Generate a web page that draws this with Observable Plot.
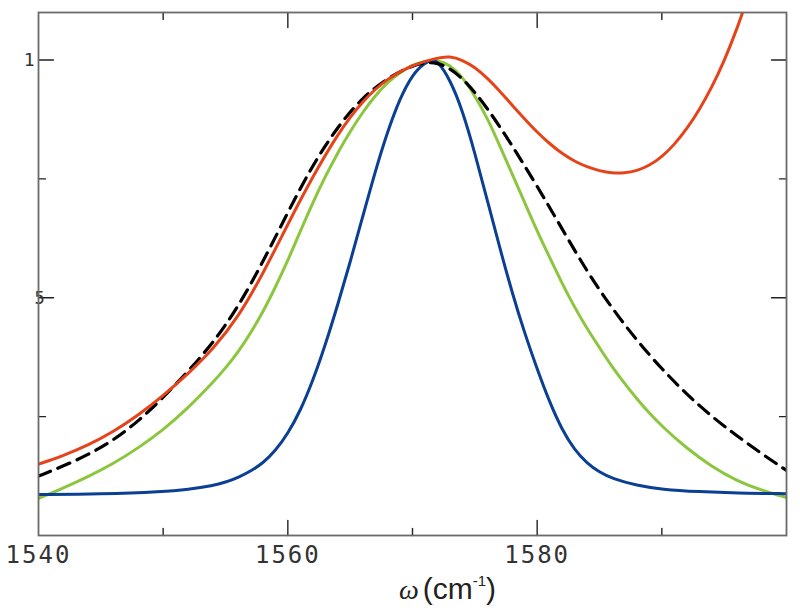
<!DOCTYPE html>
<html><head><meta charset="utf-8">
<script src="https://cdn.jsdelivr.net/npm/d3@7"></script>
<script src="https://cdn.jsdelivr.net/npm/@observablehq/plot@0.6"></script>
<style>body{margin:0;background:#fff} #chart svg{display:block}</style>
</head><body><div id="chart"></div>
<script>
// ---- data ----
const blueOmega  = [1540,1545,1550,1552,1554,1555,1556,1557,1558,1559,1560,1561,1562,1563,1564,1565,1566,1567,1568,1569,1570,1571,1571.6,1572,1573,1574,1575,1576,1577,1578,1579,1580,1581,1582,1583,1584,1585,1586,1588,1590,1593,1596,1600];
const blueValues = [0.086,0.087,0.092,0.097,0.105,0.112,0.122,0.135,0.152,0.178,0.214,0.262,0.325,0.40,0.485,0.575,0.67,0.765,0.85,0.92,0.97,0.995,1.0,0.998,0.96,0.895,0.805,0.705,0.605,0.51,0.425,0.35,0.28,0.222,0.18,0.152,0.133,0.12,0.105,0.097,0.092,0.089,0.088];

const greenOmega  = [1540,1542,1544,1546,1548,1550,1552,1554,1555,1556,1557,1558,1559,1560,1561,1562,1563,1564,1565,1566,1567,1568,1569,1570,1571,1572,1573,1574,1575,1576,1577,1578,1579,1580,1581,1582,1583,1584,1585,1586,1587,1588,1589,1590,1592,1594,1596,1598,1600];
const greenValues = [0.078,0.1,0.124,0.151,0.184,0.222,0.268,0.322,0.352,0.385,0.425,0.47,0.522,0.578,0.64,0.70,0.755,0.805,0.85,0.89,0.925,0.953,0.974,0.99,0.998,1.0,0.99,0.965,0.925,0.878,0.82,0.76,0.70,0.64,0.585,0.53,0.48,0.435,0.395,0.355,0.32,0.287,0.257,0.23,0.183,0.145,0.115,0.095,0.08];

const dashOmega  = [1540,1542,1544,1546,1548,1550,1552,1554,1556,1558,1560,1562,1564,1566,1568,1570,1572,1574,1576,1578,1580,1582,1584,1586,1588,1590,1592,1594,1596,1598,1600];
const dashValues = [0.125,0.146,0.17,0.2,0.24,0.29,0.345,0.405,0.48,0.575,0.68,0.78,0.86,0.922,0.962,0.99,1.0,0.965,0.9,0.82,0.735,0.645,0.555,0.478,0.41,0.35,0.297,0.25,0.21,0.172,0.137];

const redOmega  = [1540,1542,1544,1546,1548,1550,1552,1554,1556,1558,1560,1562,1564,1566,1568,1570,1572,1573,1574,1575,1576,1577,1578,1579,1580,1581,1582,1583,1584,1585,1586,1587,1588,1589,1590,1591,1592,1593,1594,1595,1596,1597];
const redValues = [0.15,0.168,0.19,0.218,0.253,0.294,0.34,0.392,0.458,0.55,0.655,0.755,0.845,0.915,0.962,0.99,1.005,1.008,1.0,0.985,0.962,0.935,0.905,0.876,0.848,0.824,0.803,0.787,0.775,0.767,0.762,0.762,0.767,0.778,0.796,0.822,0.855,0.895,0.942,0.998,1.063,1.14];

const xMajorTicks = [1560, 1580];
const xMinorTicks = [1550, 1570, 1590];
const xTickLabels = [1540, 1560, 1580];
const yMajorTicks = [0.5, 1];
const yMinorTicks = [0.25, 0.75];
const yTopLabel = [{v: 1, text: "1"}];
const yMidLabel = [{v: 0.5, text: "5"}];

const rows = (om, vals) => om.map((w, i) => ({w, v: vals[i]}));

const mono = "DejaVu Sans Mono, monospace";
const tickShape = {draw(context, l) { context.moveTo(0, 0); context.lineTo(0, -l); }};
const tick = (data, opts, len) => Plot.vector(data, {...opts, length: len, anchor: "start", shape: tickShape, stroke: "#222", strokeWidth: 1.4});

const plot = Plot.plot({
  width: 800, height: 613,
  marginLeft: 38, marginRight: 14, marginTop: 12, marginBottom: 78,
  x: {domain: [1540, 1600], axis: null},
  y: {domain: [0, 1.1], axis: null},
  style: {background: "#fff"},
  marks: [
    Plot.line(rows(greenOmega, greenValues), {x: "w", y: "v", stroke: "#8cc63f", strokeWidth: 3, curve: "basis", clip: true}),
    Plot.line(rows(blueOmega, blueValues), {x: "w", y: "v", stroke: "#0a3f94", strokeWidth: 3, curve: "basis", clip: true}),
    Plot.line(rows(dashOmega, dashValues), {x: "w", y: "v", stroke: "#000", strokeWidth: 3.2, strokeDasharray: "13,8", curve: "basis", clip: true}),
    Plot.line(rows(redOmega, redValues), {x: "w", y: "v", stroke: "#e5441b", strokeWidth: 3, curve: "basis", clip: true}),
    // inward ticks
    tick(xMajorTicks, {x: d => d, y: () => 0, rotate: 0}, 15),
    tick(xMinorTicks, {x: d => d, y: () => 0, rotate: 0}, 7),
    tick(xMajorTicks, {x: d => d, y: () => 1.1, rotate: 180}, 15),
    tick(xMinorTicks, {x: d => d, y: () => 1.1, rotate: 180}, 7),
    tick(yMajorTicks, {x: () => 1540, y: d => d, rotate: 90}, 15),
    tick(yMinorTicks, {x: () => 1540, y: d => d, rotate: 90}, 7),
    tick(yMajorTicks, {x: () => 1600, y: d => d, rotate: -90}, 15),
    tick(yMinorTicks, {x: () => 1600, y: d => d, rotate: -90}, 7),
    // tick labels
    Plot.axisX({anchor: "bottom", ticks: xTickLabels, tickSize: 0, tickPadding: 10, tickFormat: d => String(d), fontSize: 24, fontFamily: mono, fill: "#333", label: null}),
    Plot.text(yTopLabel, {x: () => 1540, y: "v", text: "text", fontSize: 18, dx: -4, textAnchor: "end", fontFamily: mono, fill: "#333"}),
    Plot.text(yMidLabel, {x: () => 1540, y: "v", text: "text", fontSize: 17, dx: 1, dy: 1, textAnchor: "middle", fontFamily: mono, fill: "#333"}),
    Plot.frame({stroke: "#6a6a6a", strokeWidth: 1.8})
  ]
});
document.getElementById("chart").appendChild(plot);

// letter spacing on x tick labels
d3.select(plot).selectAll("[aria-label='x-axis tick label'] text").style("letter-spacing", "2px");

// axis title
const title = d3.select(plot).append("text").attr("x", 399).attr("y", 599).attr("fill", "#222").attr("text-anchor", "start");
title.append("tspan").attr("font-family", "Liberation Serif, serif").attr("font-style", "italic").attr("font-size", 28).text("ω");
title.append("tspan").attr("font-family", "Liberation Sans Narrow, Liberation Sans, sans-serif").attr("font-size", 30).attr("dx", 4).text("(cm");
title.append("tspan").attr("font-family", "Liberation Sans Narrow, Liberation Sans, sans-serif").attr("font-size", 15).attr("dy", -13).text("-1");
title.append("tspan").attr("font-family", "Liberation Sans Narrow, Liberation Sans, sans-serif").attr("font-size", 30).attr("dy", 13).text(")");
</script>
</body></html>
